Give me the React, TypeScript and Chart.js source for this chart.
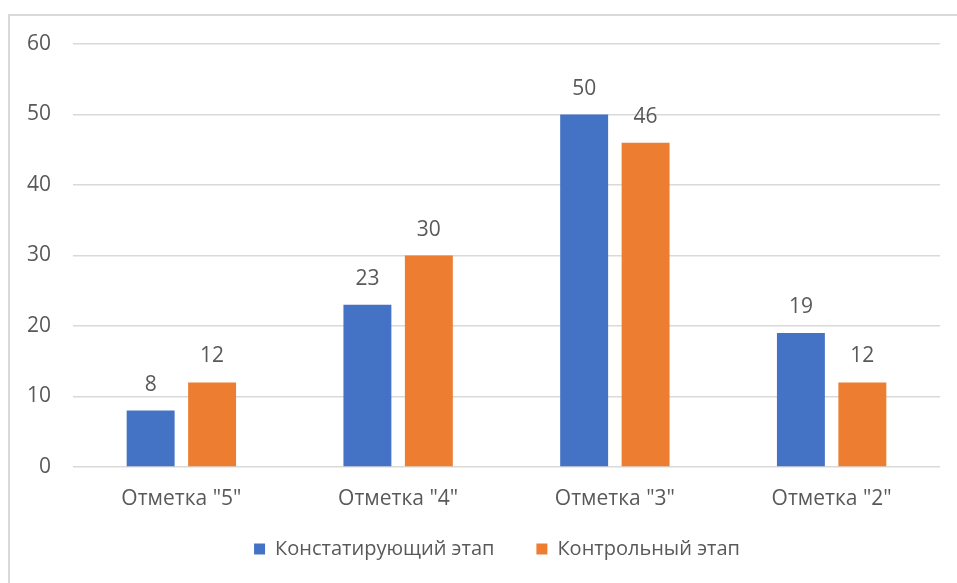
import React, { useEffect, useRef } from "react";
import { Chart, registerables } from "chart.js";

Chart.register(...registerables);

const categories = ['Отметка "5"', 'Отметка "4"', 'Отметка "3"', 'Отметка "2"'];
const seriesNames = ["Констатирующий этап", "Контрольный этап"];
const stage1 = [8, 23, 50, 19];
const stage2 = [12, 30, 46, 12];
const colors = ["#4472C4", "#ED7D31"];

const FONT = "'Open Sans', 'Noto Sans', sans-serif";
const TEXT = "#595959";

const labelPlugin = {
  id: "barLabels",
  afterDatasetsDraw(chart: any) {
    const { ctx } = chart;
    ctx.save();
    ctx.font = `21px ${FONT}`;
    ctx.fillStyle = TEXT;
    ctx.textAlign = "center";
    ctx.textBaseline = "alphabetic";
    chart.data.datasets.forEach((ds: any, i: number) => {
      const meta = chart.getDatasetMeta(i);
      meta.data.forEach((bar: any, j: number) => {
        ctx.fillText(String(ds.data[j]), bar.x, bar.y - 20);
      });
    });
    ctx.restore();
  },
};

// let tick labels extend outside their (deliberately narrow) axis boxes
const noLabelClip = (scale: any) => {
  scale._computeLabelArea = () => undefined;
};

export default function App() {
  const ref = useRef<HTMLCanvasElement>(null);
  useEffect(() => {
    if (!ref.current) return;
    const chart = new Chart(ref.current, {
      type: "bar",
      data: {
        labels: categories,
        datasets: [
          { label: seriesNames[0], data: stage1, backgroundColor: colors[0] },
          { label: seriesNames[1], data: stage2, backgroundColor: colors[1] },
        ],
      },
      options: {
        animation: false,
        responsive: false,
        devicePixelRatio: 1,
        layout: { padding: { top: 44, right: 17, bottom: 14, left: 54 } },
        datasets: { bar: { categoryPercentage: 0.567, barPercentage: 0.78 } } as any,
        scales: {
          x: {
            grid: { display: false, drawTicks: false },
            border: { display: false },
            ticks: { color: TEXT, font: { family: FONT, size: 21, lineHeight: 0.8 }, padding: 24 },
            afterFit(scale: any) {
              scale.height = 30;
              noLabelClip(scale);
            },
          },
          y: {
            min: 0,
            max: 60,
            ticks: { stepSize: 10, color: TEXT, font: { family: FONT, size: 21 }, padding: 22 },
            grid: { color: "#D9D9D9", lineWidth: 1.5, drawTicks: false },
            border: { display: false },
            afterFit(scale: any) {
              scale.width = 19;
              noLabelClip(scale);
            },
          },
        },
        plugins: {
          legend: {
            position: "bottom",
            labels: {
              color: TEXT,
              font: { family: FONT, size: 20 },
              boxWidth: 11,
              boxHeight: 11,
              padding: 42,
            },
          },
          tooltip: { enabled: false },
        },
      },
      plugins: [labelPlugin],
    });
    return () => chart.destroy();
  }, []);
  return (
    <div style={{ position: "fixed", left: 0, top: 0, width: 957, height: 583, background: "#fff", overflow: "hidden" }}>
      <div
        style={{
          position: "absolute",
          left: 8,
          top: 14,
          width: 1000,
          height: 700,
          border: "2px solid #D9D9D9",
          boxSizing: "border-box",
        }}
      />
      <canvas ref={ref} width={957} height={583} style={{ position: "absolute", left: 0, top: 0 }} />
    </div>
  );
}
